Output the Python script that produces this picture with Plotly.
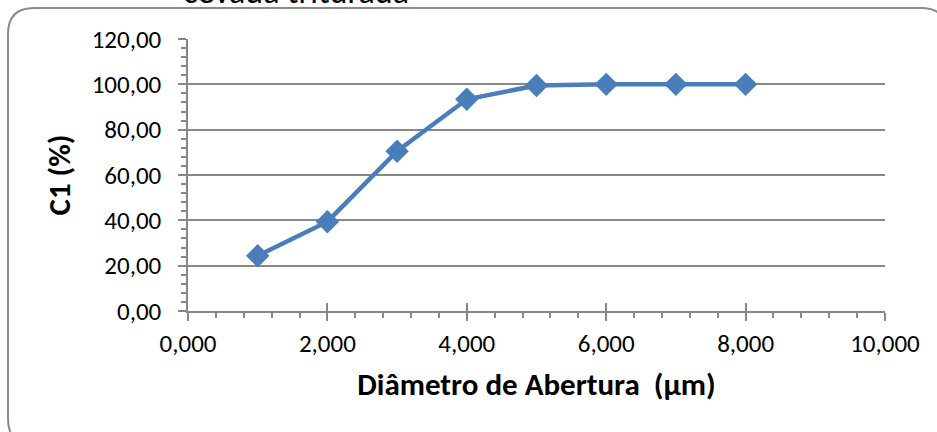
import plotly.graph_objects as go

# Sieve opening diameter and cumulative fraction C1
diametro = [1, 2, 3, 4, 5, 6, 7, 8]
c1 = [24.4, 39.4, 70.5, 93.4, 99.5, 100.0, 100.0, 100.0]

titulo = "cevada triturada"
titulo_x = "Diâmetro de Abertura  (µm)"
titulo_y = "C1 (%)"

W, H = 937, 432
ML, MR, MT, MB = 188, 52, 39, 121
PW, PH = W - ML - MR, H - MT - MB

FONT = "Carlito, Lato, Calibri, sans-serif"
GRID = "#878787"
AZUL = "#4a7ebb"


def px(x):
    return (x - ML) / PW


def py(y):
    return 1 - (y - MT) / PH


fig = go.Figure()

fig.add_trace(go.Scatter(
    x=diametro, y=c1, mode="lines+markers",
    line=dict(color=AZUL, width=4.5),
    marker=dict(symbol="diamond", size=18, color=AZUL),
    showlegend=False, cliponaxis=False,
))
# helper trace so the overlay axes (inner half of the cross ticks) exist
fig.add_trace(go.Scatter(x=[None], y=[None], xaxis="x2", yaxis="y2",
                         showlegend=False, hoverinfo="skip"))

tickfont = dict(family=FONT, size=25, color="black")

common_x = dict(range=[0, 10], tick0=0, dtick=2, tickcolor=GRID,
                tickwidth=1.5, showgrid=False, zeroline=False,
                minor=dict(dtick=0.4, ticklen=5, tickcolor=GRID, tickwidth=1.5,
                           showgrid=False))
common_y = dict(range=[0, 120], tick0=0, dtick=20, tickcolor=GRID,
                tickwidth=1.5, zeroline=False,
                minor=dict(dtick=4, ticklen=5, tickcolor=GRID, tickwidth=1.5,
                           showgrid=False))

fig.update_layout(
    width=W, height=H,
    margin=dict(l=ML, r=MR, t=MT, b=MB),
    paper_bgcolor="white", plot_bgcolor="white",
    separators=",.",
    xaxis=dict(**common_x, ticks="outside", ticklen=8, tickformat=".3f",
               showline=True, linecolor=GRID, linewidth=1.5,
               tickfont=tickfont, ticklabelstandoff=1,
               title=dict(text="<b>" + titulo_x + "</b>",
                          font=dict(family=FONT, size=31, color="black"),
                          standoff=16)),
    yaxis=dict(**common_y, ticks="outside", ticklen=8, tickformat=".2f",
               showline=True, linecolor=GRID, linewidth=1.5,
               showgrid=True, gridcolor=GRID, gridwidth=1.5,
               tickfont=tickfont, ticklabelstandoff=12,
               title=dict(text="<b>" + titulo_y + "</b>",
                          font=dict(family=FONT, size=31, color="black"),
                          standoff=12)),
    xaxis2=dict(**common_x, overlaying="x", anchor="y2", ticks="inside",
                ticklen=8, showticklabels=False, showline=False),
    yaxis2=dict(**common_y, overlaying="y", anchor="x2", ticks="inside",
                ticklen=8, showticklabels=False, showline=False,
                showgrid=False),
)

# rounded chart-area frame
x0, y0, x1, y1, r = 8, 8, 947, 445, 26
path = (f"M {px(x0)},{py(y0 + r)} "
        f"Q {px(x0)},{py(y0)} {px(x0 + r)},{py(y0)} "
        f"L {px(x1 - r)},{py(y0)} "
        f"Q {px(x1)},{py(y0)} {px(x1)},{py(y0 + r)} "
        f"L {px(x1)},{py(y1 - r)} "
        f"Q {px(x1)},{py(y1)} {px(x1 - r)},{py(y1)} "
        f"L {px(x0 + r)},{py(y1)} "
        f"Q {px(x0)},{py(y1)} {px(x0)},{py(y1 - r)} Z")
fig.add_shape(type="path", path=path, xref="paper", yref="paper",
              line=dict(color="#8a8a8a", width=2), layer="below")

fig.add_annotation(text=titulo, xref="paper", yref="paper",
                   x=px(296), y=py(14), xanchor="center", yanchor="bottom",
                   showarrow=False,
                   font=dict(family=FONT, size=34, color="black"))

fig.write_html("out.html")
